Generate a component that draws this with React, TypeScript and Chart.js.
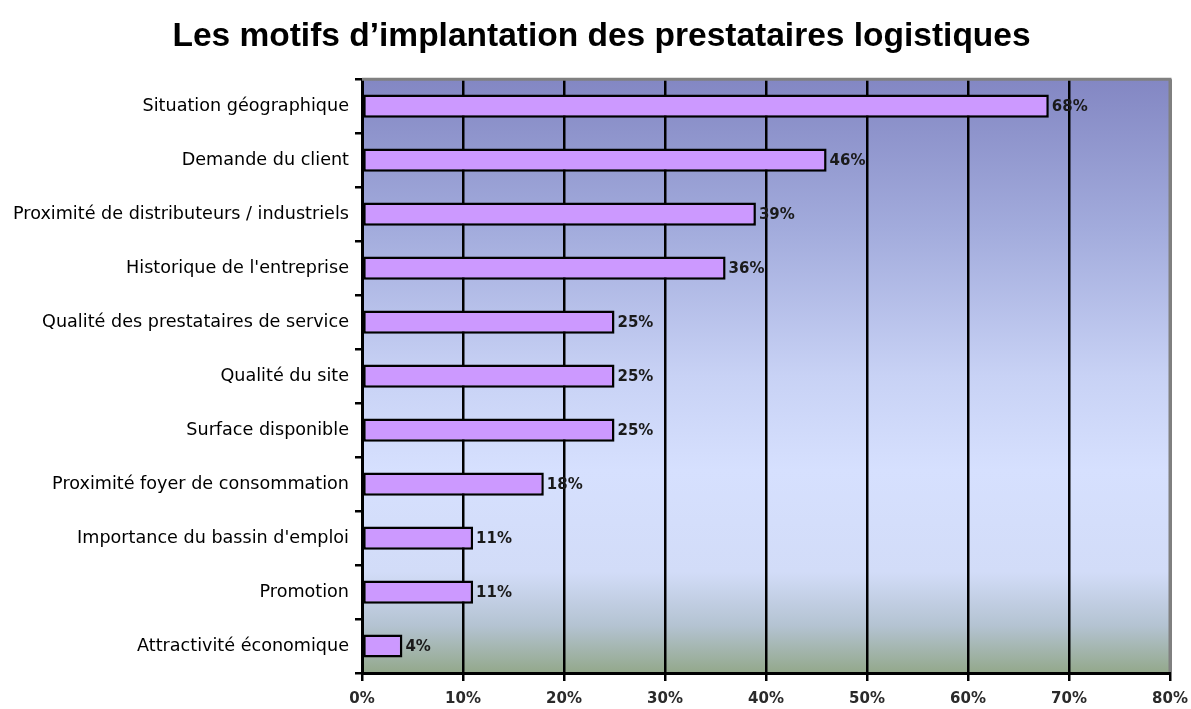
import React, { useEffect, useRef } from "react";
import { Chart, registerables } from "chart.js";

Chart.register(...registerables);

const categories = [
  "Situation géographique",
  "Demande du client",
  "Proximité de distributeurs / industriels",
  "Historique de l'entreprise",
  "Qualité des prestataires de service",
  "Qualité du site",
  "Surface disponible",
  "Proximité foyer de consommation",
  "Importance du bassin d'emploi",
  "Promotion",
  "Attractivité économique",
];
const values = [68, 46, 39, 36, 25, 25, 25, 18, 11, 11, 4];
const xTicks = [0, 10, 20, 30, 40, 50, 60, 70, 80];
const title = "Les motifs d’implantation des prestataires logistiques";

const bgPlugin = {
  id: "bgPlugin",
  beforeDraw(chart: any) {
    const { ctx, chartArea: a } = chart;
    if (!a) return;
    const g = ctx.createLinearGradient(0, a.top, 0, a.bottom);
    g.addColorStop(0, "#8387C3");
    g.addColorStop(0.25, "#A2ABDC");
    g.addColorStop(0.5, "#C8D2F5");
    g.addColorStop(0.66, "#D6E0FE");
    g.addColorStop(0.83, "#D2DCF8");
    g.addColorStop(0.92, "#B4C3D2");
    g.addColorStop(1, "#93A88B");
    ctx.save();
    ctx.fillStyle = g;
    ctx.fillRect(a.left, a.top, a.right - a.left, a.bottom - a.top);
    ctx.restore();
  },
  afterDraw(chart: any) {
    const { ctx, chartArea: a } = chart;
    ctx.save();
    ctx.strokeStyle = "#808080";
    ctx.lineWidth = 3;
    ctx.beginPath();
    ctx.moveTo(a.left, a.top);
    ctx.lineTo(a.right, a.top);
    ctx.lineTo(a.right, a.bottom - 1);
    ctx.stroke();
    // value labels
    const meta = chart.getDatasetMeta(0);
    ctx.fillStyle = "#1a1a1a";
    ctx.font = "bold 15px 'DejaVu Sans', sans-serif";
    ctx.textAlign = "left";
    ctx.textBaseline = "middle";
    meta.data.forEach((bar: any, i: number) => {
      ctx.fillText(values[i] + "%", bar.x + 3, bar.y + 1);
    });
    ctx.restore();
  },
};

export default function App() {
  const ref = useRef<HTMLCanvasElement>(null);
  useEffect(() => {
    if (!ref.current) return;
    const chart = new Chart(ref.current, {
      type: "bar",
      data: {
        labels: categories,
        datasets: [
          {
            data: values,
            backgroundColor: "#CC99FF",
            borderColor: "#000000",
            borderWidth: 2.5,
            borderSkipped: false,
            barPercentage: 0.43,
            categoryPercentage: 1,
          },
        ],
      },
      options: {
        indexAxis: "y",
        animation: false,
        responsive: false,
        maintainAspectRatio: false,
        layout: { padding: { left: 12, right: 0, top: 0, bottom: 0 } },
        plugins: {
          legend: { display: false },
          tooltip: { enabled: false },
          title: {
            display: true,
            text: title,
            color: "#000",
            font: { family: "'Liberation Sans', Arial, sans-serif", size: 33.5, weight: "bold" },
            padding: { top: 17, bottom: 22 },
          },
        },
        scales: {
          x: {
            type: "linear",
            min: 0,
            max: 80,
            afterBuildTicks(scale: any) {
              scale.ticks = xTicks.map((v) => ({ value: v }));
            },
            afterFit(scale: any) {
              scale.height = 36;
              scale.paddingRight = 21;
              scale.paddingLeft = 0;
            },
            ticks: {
              color: "#2a2a2a",
              padding: 9,
              font: { family: "'DejaVu Sans', sans-serif", size: 15, weight: "bold" },
              callback: (v: any) => v + "%",
            },
            grid: { color: "#000", lineWidth: 2.5, tickLength: 8 },
            border: { color: "#000", width: 3 },
          },
          y: {
            afterFit(scale: any) {
              scale.width = 350;
            },
            ticks: {
              color: "#000",
              padding: 6,
              font: { family: "'DejaVu Sans', sans-serif", size: 17.6 },
            },
            grid: { drawOnChartArea: false, color: "#000", lineWidth: 2.5, tickLength: 7, offset: true },
            border: { color: "#000", width: 3 },
          },
        },
      },
      plugins: [bgPlugin],
    } as any);
    return () => chart.destroy();
  }, []);
  return (
    <div style={{ position: "absolute", left: 0, top: 0, width: 1191, height: 709, background: "#fff" }}>
      <canvas ref={ref} width={1191} height={709} />
    </div>
  );
}
